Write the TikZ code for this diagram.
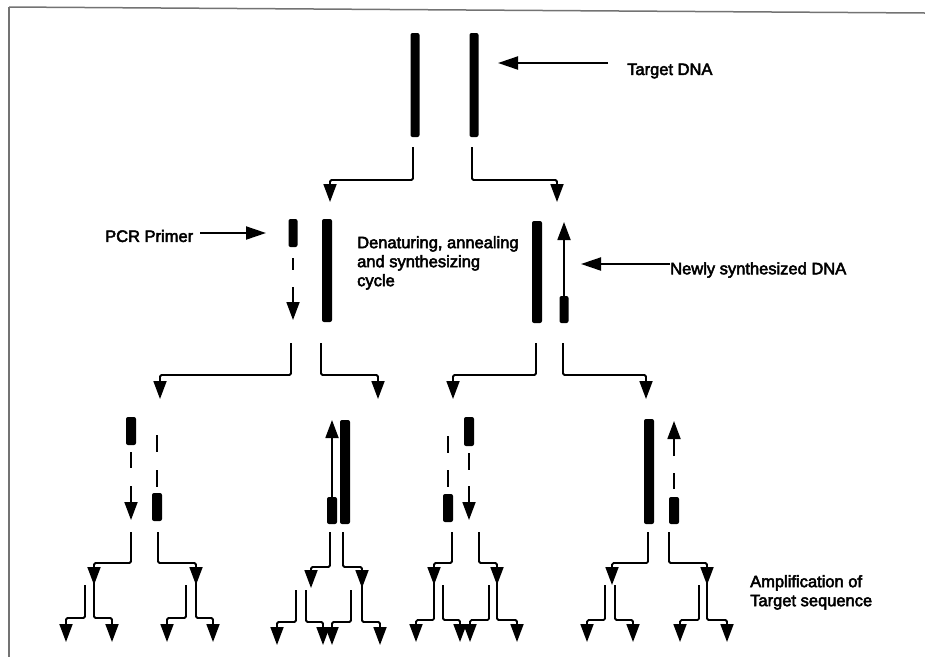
\documentclass[tikz,border=0pt]{standalone}
\usepackage{fontspec}
\setmainfont[FakeBold=3]{Liberation Sans}
\usetikzlibrary{arrows.meta}
\tikzset{
  strandbox/.style={fill=black, rounded corners=2pt},
  splitarrow/.style={line width=1.8pt, rounded corners=1.5pt, -{Triangle[width=13pt,length=18pt]}},
  pointer/.style={line width=2pt, -{Triangle[width=13pt,length=20pt]}},
  growarrow/.style={line width=1.8pt, -{Triangle[width=13pt,length=18pt]}},
  piece/.style={line width=2pt},
  lbl/.style={font=\fontsize{16.5}{19}\selectfont, inner sep=0pt, anchor=west},
}
% strand / primer: x, top, bottom, half width
\newcommand{\strandtikz}[4]{
  \fill[strandbox] (#1-#4,#2) rectangle (#1+#4,#3);
}
% split arrow: x, top, turn, new x, tip
\newcommand{\branchtikz}[5]{
  \draw[splitarrow] (#1,#2) -- (#1,#3) -- (#4,#3) -- (#4,#5);
}

\begin{document}
\begin{tikzpicture}[x=1pt, y=-1pt] % {{{
\useasboundingbox (0,0) rectangle (925,657);
\draw[black!55, line width=1.5pt] (9,7) -- (925,13);
\draw[black!55, line width=1.5pt] (9,7) -- (9,657);

\begin{scope} % Target DNA {{{
\strandtikz{415}{33}{137}{4.5}
\strandtikz{474}{33}{137}{4.5}
\node[lbl] (target) at (627,71) {Target DNA};
\coordinate (targetTip) at (498,63);
\draw[pointer] ([xshift=-19pt,yshift=8pt]target.west) -- (targetTip);
\branchtikz{413}{147}{180}{330}{202}
\branchtikz{472}{147}{180}{557}{202}
\end{scope} % }}}

\begin{scope} % First cycle {{{
\strandtikz{293}{219}{247}{4.5}
\draw[piece] (293,258) -- (293,270);
\draw[growarrow] (293,287) -- (293,320);
\strandtikz{327}{219}{322}{5}
\strandtikz{537}{221}{323}{5}
\strandtikz{564}{296}{323}{4.5}
\draw[growarrow] (564,296) -- (564,222);
\node[lbl] (primer) at (105,236) {PCR Primer};
\coordinate (primerTip) at (266,233);
\draw[pointer] ([xshift=7pt,yshift=3pt]primer.east) -- (primerTip);
\node[lbl, anchor=north west, align=left] (cycle) at (357,236)
  {Denaturing, annealing\\and synthesizing\\cycle};
\node[lbl] (newdna) at (670,270) {Newly synthesized DNA};
\coordinate (newTip) at (581,264);
\draw[pointer] ([yshift=6pt]newdna.west) -- (newTip);
\branchtikz{291}{343}{375}{160}{399}
\branchtikz{321}{343}{375}{378}{399}
\branchtikz{536}{343}{375}{453}{399}
\branchtikz{563}{343}{375}{646}{399}
\end{scope} % }}}

\begin{scope} % Second cycle {{{
\foreach \x/\ya/\yb in {131/417/445, 157/493/521, 332/497/524,
    448/494/522, 469/417/446, 674/497/524} {
  \strandtikz{\x}{\ya}{\yb}{5}
}
\strandtikz{345}{420}{524}{5}
\strandtikz{649}{419}{524}{5}
\foreach \x/\ya/\yb in {131/452/468, 157/435/452, 157/470/487,
    448/436/453, 448/470/487, 469/453/470, 674/473/489} {
  \draw[piece] (\x,\ya) -- (\x,\yb);
}
\draw[growarrow] (131,486) -- (131,520);
\draw[growarrow] (332,497) -- (332,420);
\draw[growarrow] (469,486) -- (469,520);
\draw[growarrow] (674,456) -- (674,421);
\foreach \a/\b/\c/\d/\e in {131/532/563/94/585, 158/532/563/196/585,
    330/532/567/311/588, 343/532/567/362/588,
    452/532/563/434/585, 479/532/563/497/585,
    648/532/563/612/585, 669/532/563/707/585} {
  \branchtikz{\a}{\b}{\c}{\d}{\e}
}
\end{scope} % }}}

\begin{scope} % Amplification {{{
\foreach \a/\b/\c/\d/\e in {85/585/618/66/642, 94/583/618/112/642,
    186/585/618/167/642, 196/583/618/213/642,
    296/590/622/277/645, 306/590/622/323/645,
    351/590/622/332/645, 362/586/622/380/645,
    434/583/620/416/642, 443/585/620/460/642,
    489/585/620/470/642, 497/583/620/517/642,
    605/585/620/587/642, 615/585/620/633/642,
    699/585/620/680/642, 707/583/620/727/642} {
  \branchtikz{\a}{\b}{\c}{\d}{\e}
}
\node[lbl, anchor=north west, align=left] (ampl) at (750,575)
  {Amplification of\\Target sequence};
\end{scope} % }}}
\end{tikzpicture} % }}}
\end{document}
